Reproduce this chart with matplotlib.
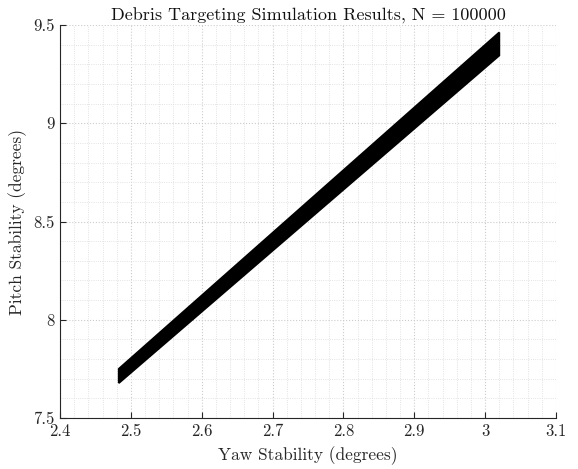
import numpy as np
import matplotlib
matplotlib.use("Agg")
import matplotlib.pyplot as plt
from matplotlib.ticker import MultipleLocator, FixedLocator, FixedFormatter

# envelope of the simulated (yaw, pitch) cloud
band_yaw = [2.483, 2.483, 3.020, 3.020]
band_pitch = [7.678, 7.750, 9.462, 9.345]

x_ticks = [2.4, 2.5, 2.6, 2.7, 2.8, 2.9, 3.0, 3.1]
x_labels = ["2.4", "2.5", "2.6", "2.7", "2.8", "2.9", "3", "3.1"]
y_ticks = [7.5, 8.0, 8.5, 9.0, 9.5]
y_labels = ["7.5", "8", "8.5", "9", "9.5"]
n_samples = 100000

plt.rcParams["font.family"] = "serif"
plt.rcParams["font.serif"] = ["cmr10"]
plt.rcParams["mathtext.fontset"] = "cm"

fig = plt.figure(figsize=(5.78, 4.69), dpi=100)
ax = fig.add_axes([0.1038, 0.1087, 0.858, 0.838])

ax.fill(band_yaw, band_pitch, facecolor="black", edgecolor="black", linewidth=1.4, zorder=3)

ax.set_xlim(2.4, 3.1)
ax.set_ylim(7.5, 9.5)
ax.xaxis.set_major_locator(FixedLocator(x_ticks))
ax.xaxis.set_major_formatter(FixedFormatter(x_labels))
ax.yaxis.set_major_locator(FixedLocator(y_ticks))
ax.yaxis.set_major_formatter(FixedFormatter(y_labels))
ax.xaxis.set_minor_locator(MultipleLocator(0.02))
ax.yaxis.set_minor_locator(MultipleLocator(0.1))

ax.grid(True, which="major", linestyle=":", color="#cccccc", linewidth=0.8)
ax.grid(True, which="minor", linestyle=":", color="#dadada", linewidth=0.6)
ax.set_axisbelow(True)

for side in ["top", "right"]:
    ax.spines[side].set_visible(False)
for side in ["left", "bottom"]:
    ax.spines[side].set_color("#262626")
    ax.spines[side].set_linewidth(0.8)

ax.tick_params(which="major", direction="in", length=4, width=0.8, color="#262626",
               labelsize=12, labelcolor="#262626", pad=4)
ax.tick_params(which="minor", length=0)

ax.set_title(f"Debris Targeting Simulation Results, N = {n_samples}", fontsize=13,
             color="#111111", pad=3)
ax.set_xlabel("Yaw Stability (degrees)", fontsize=12.5, color="#262626", labelpad=5)
ax.set_ylabel("Pitch Stability (degrees)", fontsize=12.5, color="#262626", labelpad=4)

fig.savefig("out.png", dpi=100)
